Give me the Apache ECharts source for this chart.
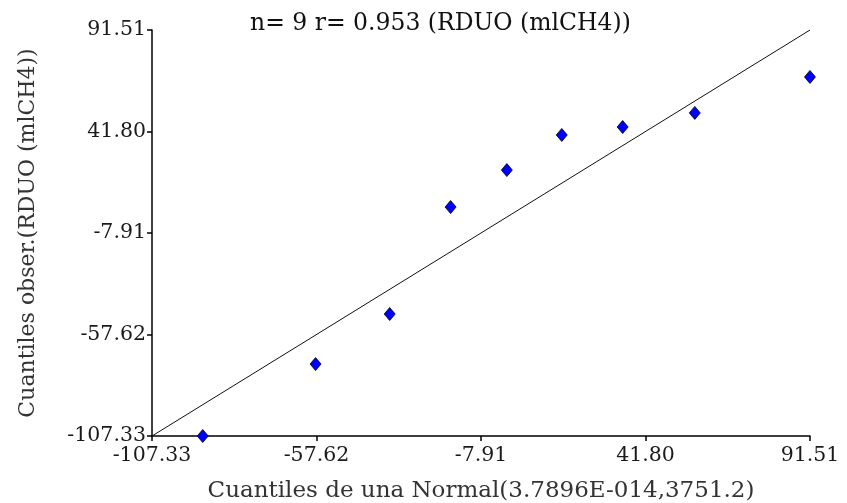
<!DOCTYPE html>
<html>
<head>
<meta charset="utf-8">
<script src="https://cdn.jsdelivr.net/npm/echarts@6/dist/echarts.min.js"></script>
<style>
html,body{margin:0;padding:0;background:#fff;}
#chart{width:847px;height:503px;}
</style>
</head>
<body>
<div id="chart"></div>
<script>
// Theoretical normal quantiles (x) and observed quantiles (y)
const normalQuantiles = [-92.0, -57.9, -35.5, -17.1, -0.1, 16.5, 34.9, 56.7, 91.5];
const observedQuantiles = [-107.33, -72.1, -47.6, 4.8, 22.9, 40.1, 44.0, 50.9, 68.5];
const tickValues = [-107.33, -57.62, -7.91, 41.80, 91.51];
const axisMin = -107.33;
const axisMax = 91.51;
const titleText = 'n= 9 r= 0.953 (RDUO (mlCH4))';
const xName = 'Cuantiles de una Normal(3.7896E-014,3751.2)';
const yName = 'Cuantiles obser.(RDUO (mlCH4))';

const FONT = 'DejaVu Serif';
const chart = echarts.init(document.getElementById('chart'), null, {renderer: 'canvas'});
const points = normalQuantiles.map((x, i) => [x, observedQuantiles[i]]);

const axisCommon = {
  type: 'value',
  min: axisMin,
  max: axisMax,
  splitLine: {show: false},
  axisLine: {show: true, onZero: false, lineStyle: {color: '#000', width: 1.5}},
  axisTick: {show: true, customValues: tickValues, length: 5, lineStyle: {color: '#000', width: 1.5}},
  axisLabel: {
    customValues: tickValues,
    formatter: v => v.toFixed(2),
    color: '#1a1a1a',
    fontFamily: FONT,
    fontSize: 20.5
  },
  nameLocation: 'middle',
  nameTextStyle: {fontFamily: FONT, fontSize: 22, color: '#333'}
};

chart.setOption({
  animation: false,
  backgroundColor: '#fff',
  title: {
    text: titleText,
    left: 245,
    top: 7,
    textStyle: {fontFamily: FONT, fontSize: 23.5, fontWeight: 'normal', color: '#111'}
  },
  grid: {left: 152, right: 37, top: 30, bottom: 67, containLabel: false, outerBoundsMode: 'none'},
  xAxis: Object.assign({}, axisCommon, {
    name: xName,
    nameGap: 44,
    nameTextStyle: {fontFamily: FONT, fontSize: 23, color: '#333'},
    axisLabel: Object.assign({}, axisCommon.axisLabel, {margin: 9})
  }),
  yAxis: Object.assign({}, axisCommon, {
    name: yName,
    nameGap: 113,
    nameRotate: 90,
    axisLabel: Object.assign({}, axisCommon.axisLabel, {margin: 6})
  }),
  series: [
    {
      type: 'line',
      data: [[axisMin, axisMin], [axisMax, axisMax]],
      symbol: 'none',
      lineStyle: {color: '#111', width: 1},
      silent: true,
      z: 1
    },
    {
      type: 'scatter',
      data: points,
      symbol: 'diamond',
      symbolSize: [11, 13],
      itemStyle: {color: '#0000ff', borderColor: '#000', borderWidth: 0.8, opacity: 1},
      z: 3
    }
  ]
});
</script>
</body>
</html>
